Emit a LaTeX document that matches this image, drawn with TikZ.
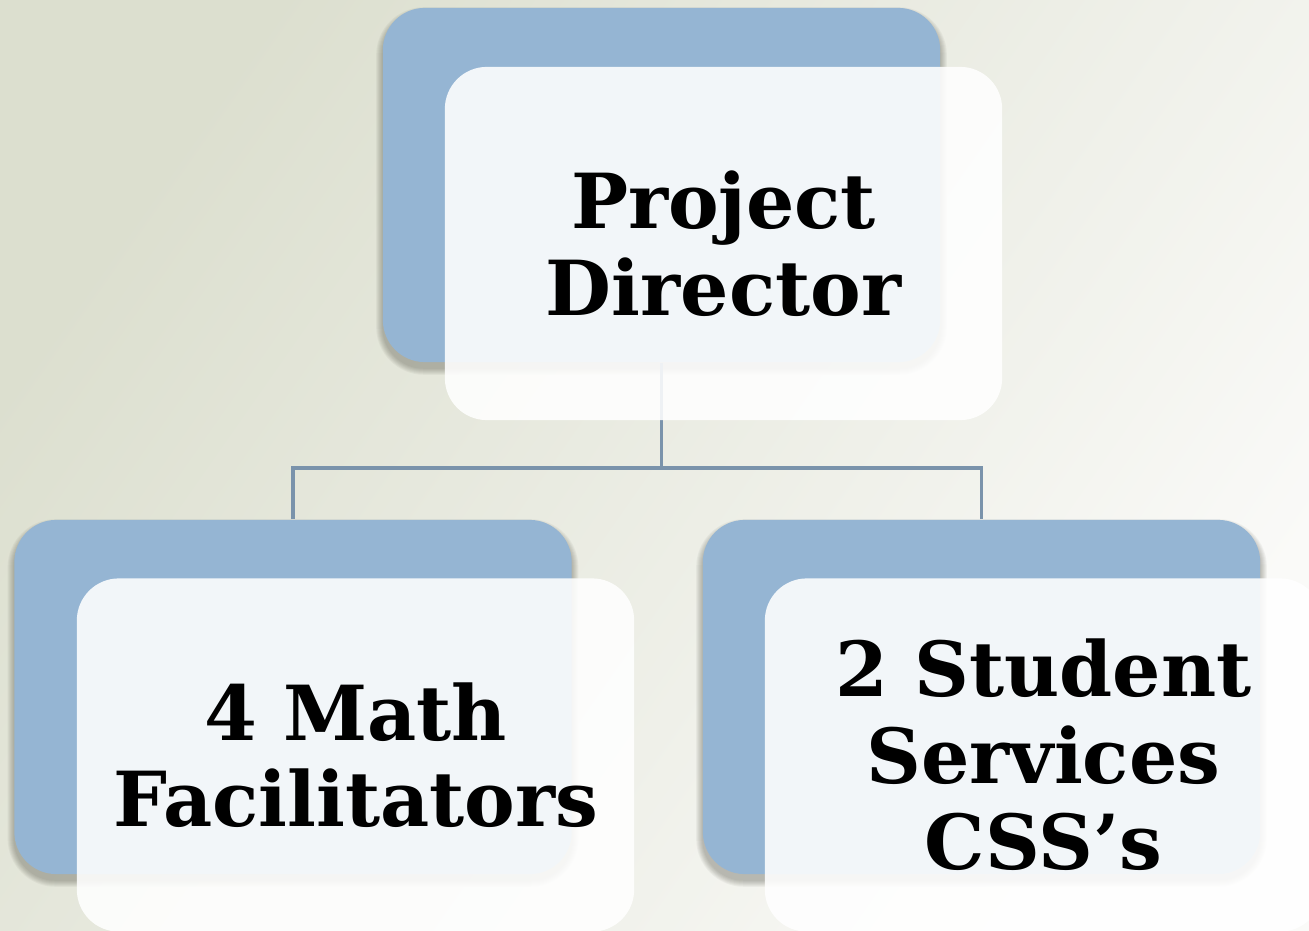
\documentclass[tikz,border=0pt]{standalone}
\usepackage{fontspec}
\setmainfont{DejaVu Serif}
\usetikzlibrary{calc}
\definecolor{bgL}{HTML}{DCDFCF}
\definecolor{bgR}{HTML}{FAFAF8}
\definecolor{boxblue}{HTML}{95B5D3}
\definecolor{connblue}{HTML}{7A93AB}
\definecolor{shadowcol}{HTML}{3A3A2E}
\pgfdeclarelayer{bglayer}
\pgfdeclarelayer{shadowlayer}
\pgfsetlayers{bglayer,shadowlayer,main}
\tikzset{
  backbox/.style={rectangle, rounded corners=0.42cm, fill=boxblue,
    minimum width=5.57cm, minimum height=3.54cm, inner sep=0pt},
  frontbox/.style={rectangle, rounded corners=0.42cm, fill=white, fill opacity=0.88,
    text opacity=1, minimum width=5.57cm, minimum height=3.53cm, inner sep=0pt,
    align=center, font=\fontsize{21.6}{24.6}\selectfont\bfseries},
  conn/.style={draw=connblue, line width=0.9pt}
}
% soft drop shadow under a back box: stacked translucent rounded rectangles
\newcommand\softshadow[1]{%
  \foreach \d in {0,...,6}{%
    \fill[shadowcol, opacity=0.05, rounded corners={0.42cm+\d*0.01cm}]
      ($(#1.south west)+(-\d,\d+6)$) rectangle ($(#1.north east)+(\d,-\d+6)$);
  }%
}
\begin{document}
\begin{tikzpicture}[x=0.01cm, y=-0.01cm]
  \useasboundingbox (0,0) rectangle (1309,931);
  % page background
  \begin{pgfonlayer}{bglayer}
    \shade[shading=axis, top color=bgL, bottom color=bgR, shading angle=55]
      (0,0) rectangle (1309,931);
  \end{pgfonlayer}

  % back (blue) boxes
  \node[backbox] (pdB) at (661.5,185) {};
  \node[backbox] (mfB) at (293,697) {};
  \node[backbox] (ssB) at (981.5,697) {};

  \begin{pgfonlayer}{shadowlayer}
    \softshadow{pdB}
    \softshadow{mfB}
    \softshadow{ssB}
  \end{pgfonlayer}

  % connectors
  \coordinate (bus) at (661.5,468);
  \draw[conn] (pdB.south) -- (pdB.south |- bus);
  \draw[conn] (mfB.north) |- (ssB.north |- bus) -- (ssB.north);

  % front (white) boxes with labels
  \node[frontbox] (pd) at (723.5,243.5) {Project\\Director};
  \node[frontbox] (mf) at (355.5,755) {4 Math\\Facilitators};
  \node[frontbox] (ss) at (1043.5,755) {2 Student\\Services\\CSS’s};
\end{tikzpicture}
\end{document}
